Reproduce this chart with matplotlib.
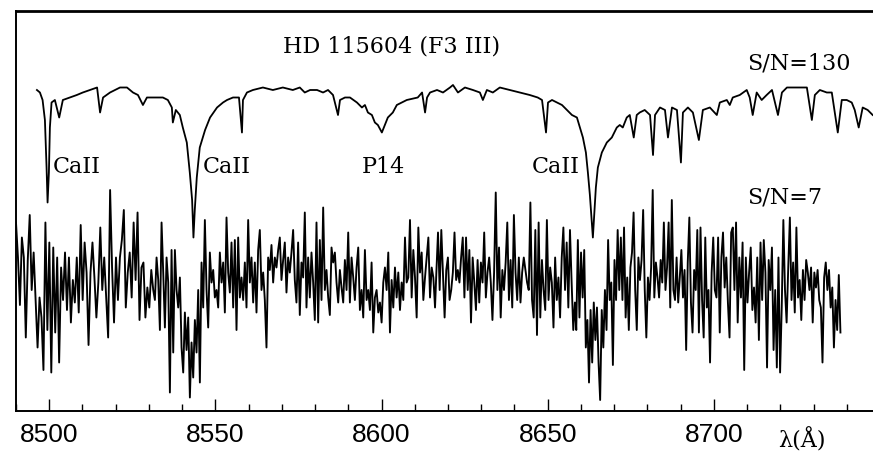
import numpy as np
import matplotlib
matplotlib.use("Agg")
import matplotlib.pyplot as plt
from matplotlib.ticker import MultipleLocator

# high S/N spectrum, normalised flux
top_wave = [8496.3, 8497.2, 8498.0, 8498.7, 8499.2, 8499.5, 8499.9, 8500.2, 8500.7, 8501.7,
            8503.0, 8504.1, 8506.2, 8508.3, 8510.1, 8512.3, 8514.4, 8515.3, 8516.2, 8518.3,
            8521.3, 8523.4, 8525.2, 8526.7, 8528.2, 8529.4, 8532.4, 8534.2, 8535.7, 8536.9,
            8537.2, 8538.1, 8539.3, 8540.2, 8541.4, 8542.3, 8543.0, 8543.4, 8543.8, 8544.4,
            8545.3, 8546.9, 8548.4, 8550.5, 8552.3, 8553.5, 8555.3, 8557.1, 8558.0, 8558.3,
            8559.5, 8561.3, 8564.3, 8567.3, 8570.3, 8573.3, 8575.4, 8576.9, 8578.5, 8580.6,
            8582.4, 8583.9, 8585.4, 8586.9, 8587.5, 8589.0, 8590.5, 8592.6, 8594.1, 8595.0,
            8595.9, 8597.1, 8598.0, 8598.9, 8600.1, 8601.0, 8601.9, 8603.4, 8604.6, 8606.1,
            8607.6, 8610.9, 8612.2, 8613.1, 8613.7, 8614.6, 8616.7, 8618.5, 8620.6, 8621.5,
            8623.0, 8625.1, 8627.5, 8629.6, 8630.5, 8631.7, 8633.5, 8635.6, 8638.6, 8641.6,
            8644.6, 8647.0, 8648.3, 8649.5, 8650.1, 8651.3, 8652.8, 8654.3, 8655.8, 8657.3,
            8658.8, 8659.7, 8660.6, 8661.5, 8662.1, 8662.7, 8663.6, 8664.5, 8665.1, 8666.3,
            8667.8, 8669.3, 8670.8, 8671.7, 8672.6, 8673.8, 8674.7, 8675.9, 8676.8, 8677.7,
            8679.2, 8680.8, 8681.7, 8682.3, 8683.8, 8685.3, 8686.2, 8687.4, 8688.9, 8690.1,
            8690.7, 8692.2, 8693.7, 8695.5, 8696.7, 8698.8, 8700.9, 8701.8, 8703.9, 8704.8,
            8705.7, 8707.8, 8709.9, 8710.8, 8711.7, 8712.9, 8714.4, 8715.9, 8717.5, 8719.3,
            8720.5, 8722.0, 8723.8, 8725.9, 8728.0, 8729.5, 8730.4, 8731.9, 8734.0, 8735.5,
            8737.3, 8738.5, 8740.0, 8741.5, 8742.4, 8743.6, 8744.8, 8746.3, 8747.8]
top_flux = [1.00, 0.99, 0.96, 0.88, 0.69, 0.55, 0.67, 0.85, 0.95, 0.96,
            0.89, 0.96, 0.97, 0.98, 0.99, 1.00, 1.01, 0.91, 0.97, 0.99,
            1.01, 1.01, 0.99, 0.98, 0.94, 0.97, 0.97, 0.97, 0.96, 0.93,
            0.87, 0.92, 0.90, 0.85, 0.79, 0.67, 0.56, 0.41, 0.52, 0.65,
            0.77, 0.84, 0.89, 0.93, 0.95, 0.96, 0.97, 0.97, 0.83, 0.96,
            0.99, 1.00, 1.01, 1.00, 1.01, 1.00, 1.01, 0.99, 1.00, 1.00,
            0.99, 1.00, 0.98, 0.90, 0.96, 0.97, 0.97, 0.95, 0.93, 0.94,
            0.91, 0.90, 0.87, 0.86, 0.83, 0.86, 0.89, 0.91, 0.94, 0.95,
            0.96, 0.97, 0.99, 0.91, 0.97, 0.99, 1.00, 0.99, 1.01, 1.02,
            0.99, 1.01, 1.00, 0.99, 0.96, 1.00, 0.99, 1.01, 1.00, 0.99,
            0.98, 0.97, 0.96, 0.83, 0.95, 0.96, 0.95, 0.94, 0.92, 0.90,
            0.89, 0.85, 0.81, 0.75, 0.67, 0.58, 0.41, 0.61, 0.69, 0.75,
            0.79, 0.81, 0.85, 0.86, 0.85, 0.89, 0.90, 0.81, 0.90, 0.91,
            0.92, 0.90, 0.74, 0.90, 0.93, 0.92, 0.81, 0.93, 0.92, 0.71,
            0.91, 0.93, 0.91, 0.80, 0.92, 0.93, 0.90, 0.95, 0.96, 0.94,
            0.97, 0.98, 1.00, 0.97, 0.90, 0.99, 0.96, 0.98, 1.00, 0.90,
            0.99, 1.01, 1.01, 1.01, 1.01, 0.88, 0.98, 1.00, 0.99, 0.99,
            0.83, 0.96, 0.96, 0.95, 0.92, 0.85, 0.93, 0.92, 0.90]
top_offset = 0.70

# low S/N spectrum, read in six stretches of wavelength
seg_ranges = [(8490.0, 8531.3), (8531.8, 8573.9), (8574.4, 8616.1),
              (8616.5, 8658.2), (8658.6, 8700.3), (8700.8, 8738.1)]
noisy_1 = [1.17, 1.03, 0.84, 1.11, 1.03, 0.71, 1.02, 1.20, 0.90, 1.05, 0.86, 0.67, 0.87, 0.79,
           0.58, 1.17, 0.74, 1.09, 0.57, 1.07, 0.73, 1.03, 0.61, 0.99, 0.86, 1.05, 0.82, 1.03,
           0.77, 0.94, 0.85, 1.03, 0.81, 1.16, 0.86, 1.09, 0.97, 0.68, 0.97, 1.09, 0.95, 0.79,
           0.93, 1.15, 0.90, 1.03, 0.87, 0.71, 1.30, 0.99, 0.77, 1.03, 0.86, 1.03, 1.10, 1.22,
           0.83, 0.97, 1.05, 0.87, 1.17, 0.94, 1.21, 0.78, 0.99, 1.01, 0.79, 0.91, 0.83, 0.98,
           0.90]
noisy_2 = [0.86, 1.03, 0.94, 0.74, 1.17, 0.97, 0.75, 1.03, 0.93, 0.49, 1.06, 0.65, 1.06, 0.90,
           0.83, 0.95, 0.67, 0.57, 0.81, 0.66, 0.79, 0.47, 0.69, 0.55, 0.78, 0.65, 0.90, 0.53,
           1.01, 0.83, 1.18, 0.90, 0.75, 1.05, 0.93, 0.98, 0.87, 0.90, 0.83, 1.05, 0.93, 1.01,
           0.81, 1.19, 0.97, 0.89, 1.09, 0.83, 1.10, 0.74, 1.11, 0.87, 0.95, 0.86, 1.01, 0.83,
           1.18, 0.93, 1.03, 0.85, 1.01, 0.81, 1.06, 1.14, 0.90, 0.97, 0.86, 0.67, 1.03, 0.98,
           1.08, 0.93, 1.03, 0.99, 1.06, 1.11, 0.94, 1.02, 1.09, 0.89, 1.03, 0.97, 1.05, 1.14,
           0.94]
noisy_3 = [0.85, 1.09, 0.80, 1.01, 0.95, 1.21, 0.83, 1.03, 0.87, 1.05, 0.93, 0.78, 1.17, 0.77,
           1.10, 0.86, 1.23, 0.90, 0.98, 0.87, 0.80, 1.07, 1.01, 1.05, 0.93, 0.85, 0.98, 0.91,
           0.85, 1.02, 0.90, 1.13, 0.85, 1.03, 0.95, 0.86, 0.99, 1.07, 0.82, 0.90, 0.79, 1.06,
           0.86, 0.90, 0.82, 1.01, 0.73, 0.87, 0.90, 0.81, 0.85, 0.77, 0.93, 0.99, 0.90, 1.05,
           0.73, 0.94, 0.83, 0.99, 0.87, 0.97, 0.82, 0.93, 0.86, 1.11, 0.93, 0.95, 1.18, 0.87,
           1.06, 0.95, 0.79, 1.15, 0.97, 1.05, 0.86, 0.95, 1.03, 1.11, 0.87, 0.99, 0.95, 0.83]
noisy_4 = [0.97, 1.13, 0.90, 1.14, 0.97, 0.79, 0.98, 1.03, 0.86, 0.90, 0.97, 1.13, 0.94, 0.98,
           0.93, 1.03, 1.11, 0.87, 1.11, 0.90, 1.06, 0.77, 1.03, 0.93, 0.82, 1.02, 0.85, 1.01,
           0.93, 1.13, 0.87, 0.97, 1.03, 0.93, 0.78, 0.97, 1.29, 0.90, 1.07, 0.79, 0.98, 0.90,
           1.01, 1.17, 0.86, 1.02, 0.83, 1.20, 0.97, 0.86, 1.03, 0.85, 0.97, 1.03, 0.98, 0.93,
           0.90, 1.25, 0.86, 0.79, 1.14, 0.72, 1.17, 0.79, 1.02, 0.90, 0.82, 1.18, 0.86, 0.99,
           0.93, 0.75, 1.03, 0.86, 0.95, 0.79, 1.03, 1.15, 0.90, 1.09, 0.83, 1.14, 0.93, 0.74,
           0.85]
noisy_5 = [0.74, 1.10, 0.79, 1.05, 0.87, 1.06, 0.67, 0.78, 0.53, 0.82, 0.61, 0.85, 0.70, 0.83,
           0.61, 0.46, 0.82, 0.67, 0.90, 0.74, 1.10, 0.86, 0.93, 0.60, 1.02, 0.86, 1.14, 0.90,
           1.11, 0.86, 1.15, 0.79, 0.95, 0.74, 0.99, 1.05, 1.21, 0.90, 0.74, 1.03, 0.94, 1.02,
           1.22, 0.90, 0.71, 0.95, 0.86, 0.99, 1.30, 0.87, 1.01, 0.95, 0.87, 1.02, 0.93, 1.17,
           0.90, 0.99, 1.17, 0.83, 1.26, 0.90, 0.86, 1.03, 0.85, 0.95, 1.06, 0.87, 0.98, 0.66,
           1.01, 1.19, 0.85, 0.73, 0.98, 0.90, 1.14, 0.73, 1.15, 0.86, 0.71, 1.11, 0.83, 0.90,
           0.61, 0.97, 1.11, 0.90]
noisy_6 = [0.87, 1.11, 0.73, 1.03, 1.13, 0.91, 1.03, 0.85, 0.71, 1.13, 1.15, 0.90, 1.17, 0.77,
           1.03, 0.87, 1.09, 0.58, 1.03, 0.85, 0.97, 1.07, 0.82, 0.91, 0.77, 1.03, 0.70, 1.09,
           0.86, 1.10, 0.97, 0.59, 1.02, 0.90, 1.07, 0.66, 0.90, 0.59, 1.03, 0.57, 0.83, 1.18,
           0.90, 0.77, 0.99, 1.19, 0.86, 1.01, 0.81, 1.15, 0.87, 0.94, 0.78, 0.98, 0.86, 1.02,
           0.97, 0.90, 0.99, 0.77, 0.97, 0.91, 0.98, 0.86, 0.83, 0.61, 0.95, 1.01, 0.90, 0.98,
           0.83, 0.91, 0.67, 0.86, 0.74, 0.96, 0.73]

tick_vals = [8500, 8550, 8600, 8650, 8700]
tick_text = ["8500", "8550", "8600", "8650", "8700"]

segments = [noisy_1, noisy_2, noisy_3, noisy_4, noisy_5, noisy_6]
noisy_wave = np.concatenate([np.linspace(a, b, len(s)) for (a, b), s in zip(seg_ranges, segments)])
noisy_flux = np.concatenate([np.array(s) for s in segments])

fig = plt.figure(figsize=(8.73, 4.53), dpi=100)
ax = fig.add_axes([16 / 873, 42 / 453, 857 / 873, 400 / 453])

ax.plot(top_wave, np.array(top_flux) + top_offset, color="black", lw=1.3)
ax.plot(noisy_wave, noisy_flux, color="black", lw=1.35)

ax.set_xlim(8490, 8747.9)
ax.set_ylim(0.416, 2.016)

ax.spines["right"].set_visible(False)
for side in ["left", "bottom"]:
    ax.spines[side].set_linewidth(1.4)
ax.spines["top"].set_linewidth(2.0)

ax.set_xticks(tick_vals)
ax.set_xticklabels(tick_text, family="Liberation Sans", fontsize=19)
ax.xaxis.set_minor_locator(MultipleLocator(10))
ax.set_yticks([])
ax.tick_params(axis="x", which="major", direction="in", length=8.5, width=1.0, pad=9)
ax.tick_params(axis="x", which="minor", direction="in", length=4.7, width=1.0)

serif = dict(family="DejaVu Serif", fontsize=16, color="black")
ax.text(8570.3, 1.852, "HD 115604 (F3 III)", ha="left", va="baseline", **serif)
ax.text(8709.9, 1.784, "S/N=130", ha="left", va="baseline", **serif)
ax.text(8709.9, 1.248, "S/N=7", ha="left", va="baseline", **serif)
ax.text(8501.1, 1.368, "CaII", ha="left", va="baseline", **serif)
ax.text(8546.3, 1.368, "CaII", ha="left", va="baseline", **serif)
ax.text(8594.1, 1.368, "P14", ha="left", va="baseline", **serif)
ax.text(8645.2, 1.368, "CaII", ha="left", va="baseline", **serif)
ax.text(8719.3, 0.27, "λ(Å)", ha="left", va="baseline", clip_on=False, **serif)

fig.savefig("out.png", dpi=100)
